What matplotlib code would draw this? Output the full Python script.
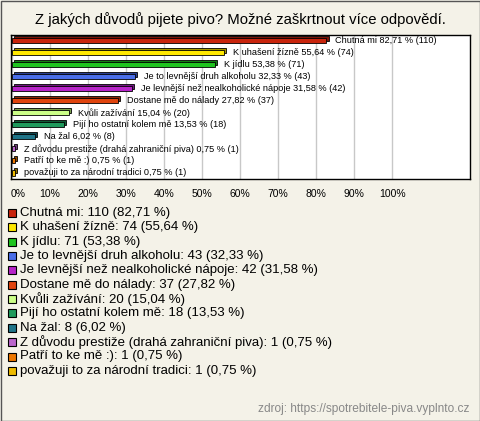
import matplotlib.pyplot as plt
from matplotlib.patches import Rectangle
import matplotlib.transforms as mtransforms

plt.rcParams['font.family'] = ['Liberation Sans', 'DejaVu Sans']

title = 'Z jakých důvodů pijete pivo? Možné zaškrtnout více odpovědí.'
answers = ['Chutná mi', 'K uhašení žízně', 'K jídlu', 'Je to levnější druh alkoholu',
           'Je levnější než nealkoholické nápoje', 'Dostane mě do nálady', 'Kvůli zažívání',
           'Pijí ho ostatní kolem mě', 'Na žal', 'Z důvodu prestiže (drahá zahraniční piva)',
           'Patří to ke mě :)', 'považuji to za národní tradici']
counts = [110, 74, 71, 43, 42, 37, 20, 18, 8, 1, 1, 1]
percents = [82.71, 55.64, 53.38, 32.33, 31.58, 27.82, 15.04, 13.53, 6.02, 0.75, 0.75, 0.75]
colors = ['#c8240c', '#ffe800', '#1fc41f', '#4a6ee8', '#b623c8', '#e0440e', '#ccff88',
          '#1f9a5c', '#1f7488', '#bb66cc', '#ee7700', '#eebb00']
dark = ['#7a1406', '#a89800', '#128012', '#2a3f90', '#701480', '#8a2808', '#7aa050',
        '#105c36', '#10464f', '#703d7a', '#8f4700', '#8f7000']
ticks = list(range(0, 101, 10))
source = 'zdroj: https://spotrebitele-piva.vyplnto.cz'

bg = '#f4f2e8'
W, H = 480, 421
fig = plt.figure(figsize=(4.8, 4.21), dpi=100, facecolor=bg)
fig.patches.append(Rectangle((0.5 / W, 0.5 / H), 1 - 1 / W, 1 - 1 / H, transform=fig.transFigure,
                             fill=False, edgecolor='#555555', lw=1))

fig.text(240 / W, 1 - 20 / H, title, ha='center', va='center', fontsize=10.7)

ax = fig.add_axes([11 / W, 1 - 179 / H, 459 / W, 144 / H])
ax.set_facecolor('white')
ax.set_xlim(-0.3, 120.5)
ax.set_ylim(11.5, -0.48)
for t in ticks:
    ax.axvline(t, color='#c8c8c8', lw=1, zorder=0)
ax.set_xticks(ticks)
ax.set_xticklabels([f'{t}%' for t in ticks], fontsize=7.5)
ax.tick_params(axis='x', length=0, pad=7)
# first label sits a bit to the right like in the original
lbl0 = ax.get_xticklabels()[0]
lbl0.set_transform(lbl0.get_transform() + mtransforms.ScaledTranslation(6 / 100, 0, fig.dpi_scale_trans))
ax.set_yticks([])
for s in ax.spines.values():
    s.set_linewidth(1)
    s.set_color('black')

n = len(answers)
dx, dy = 0.55, -0.17
h = 0.42
for i in range(n):
    p = percents[i]
    ax.barh(i + dy, p, left=dx, height=h, color=dark[i], edgecolor='black', lw=0.6, zorder=2)
    ax.barh(i, p, height=h, color=colors[i], edgecolor='black', lw=0.6, zorder=3)
    lab = f"{answers[i]} {p:.2f} % ({counts[i]})".replace('.', ',')
    tr = mtransforms.offset_copy(ax.transData, fig=fig, x=9, y=0, units='dots')
    ax.text(p, i, lab, transform=tr, ha='left', va='center', fontsize=6.6, zorder=4)

# legend
y0, step = 213, 14.35
for i in range(n):
    y = y0 + i * step
    fig.patches.append(Rectangle((8 / W, 1 - (y + 4) / H), 8 / W, 8 / H, transform=fig.transFigure,
                                 facecolor=colors[i], edgecolor='black', lw=0.8))
    pct = f'{percents[i]:.2f}'.replace('.', ',')
    fig.text(20 / W, 1 - y / H, f'{answers[i]}: {counts[i]} ({pct} %)',
             ha='left', va='center', fontsize=9.5)

fig.text(470 / W, 1 - 409 / H, source, ha='right', va='center', fontsize=8.6, color='#888888')

fig.savefig('out.png', dpi=100, facecolor=bg)
